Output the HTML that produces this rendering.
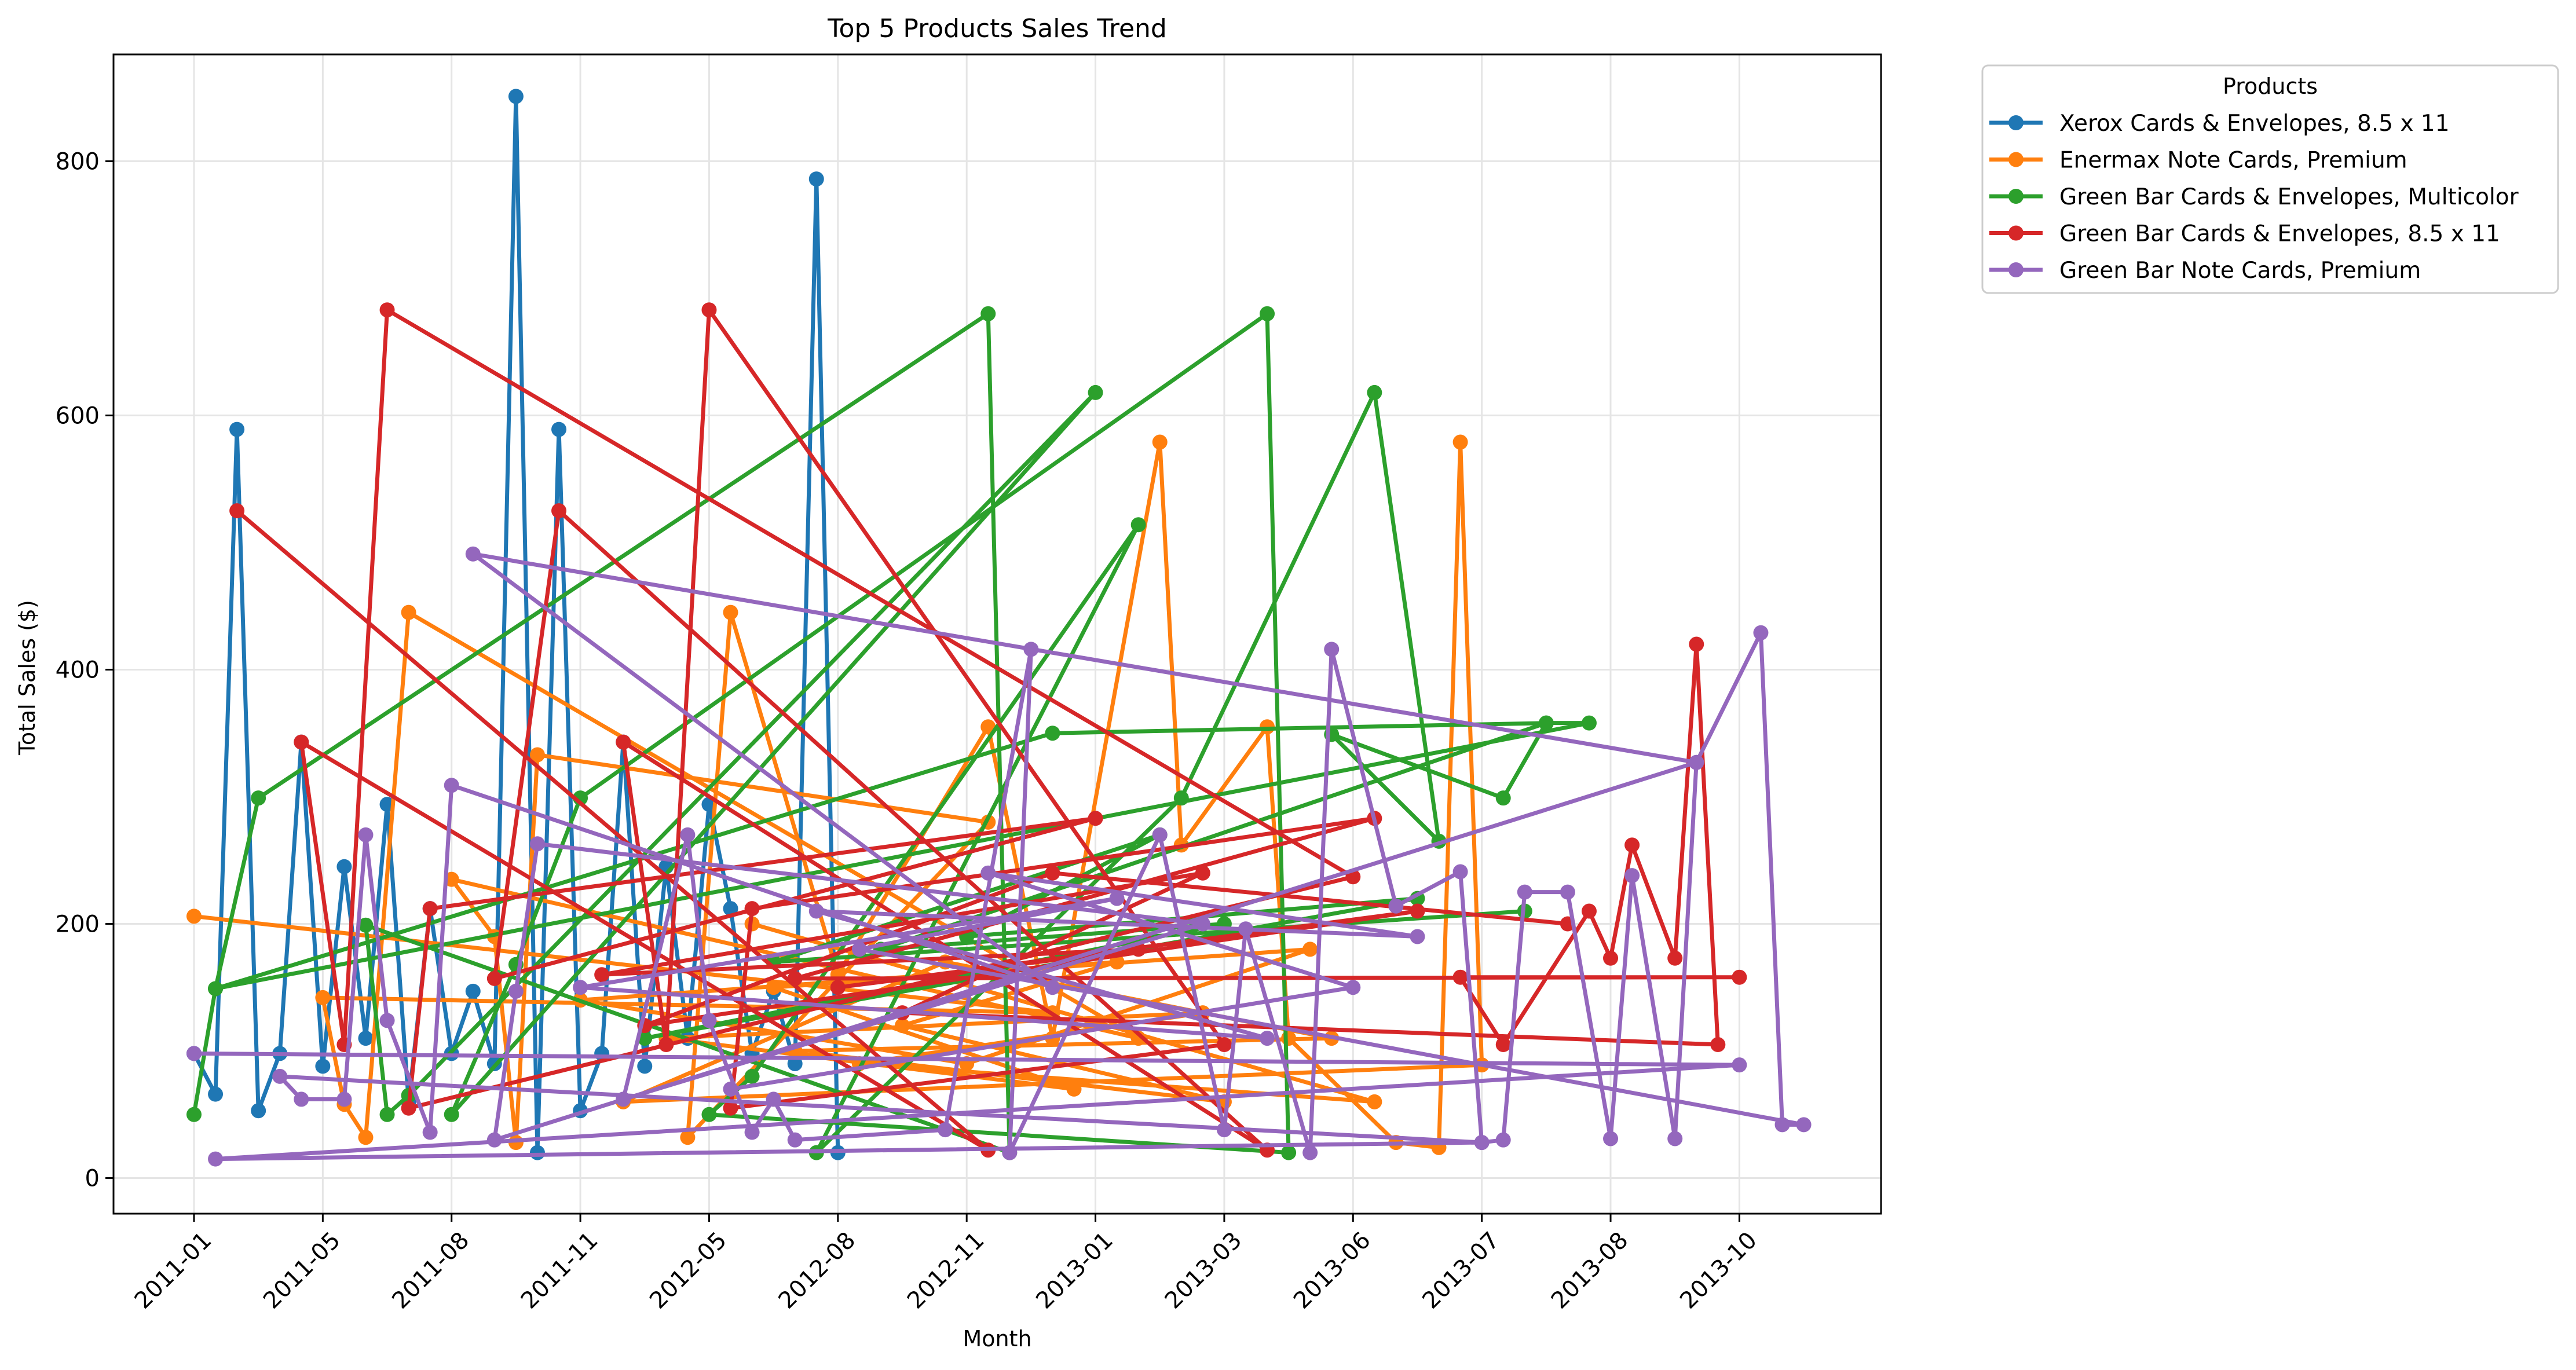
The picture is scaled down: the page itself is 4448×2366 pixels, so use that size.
<!DOCTYPE html>
<html><head><meta charset="utf-8"><style>
html,body{margin:0;padding:0;background:#fff;}
svg{display:block;font-family:"DejaVu Sans","Liberation Sans",sans-serif;}
</style></head><body>
<svg id="chart" width="4448" height="2366" viewBox="0 0 4448 2366" xmlns="http://www.w3.org/2000/svg">
<rect width="4448" height="2366" fill="#fff"/>
<text x="1722" y="64" font-size="44" text-anchor="middle">Top 5 Products Sales Trend</text>
<g id="grid"></g>
<g id="series"></g>
<rect x="196" y="94" width="3052" height="2002" fill="none" stroke="#000" stroke-width="3"/>
<g id="axes"></g>
<text x="1722" y="2325" font-size="38" text-anchor="middle">Month</text>
<text transform="translate(60,1170) rotate(-90)" font-size="38" text-anchor="middle">Total Sales ($)</text>
<g>
<rect x="3423" y="113" width="994" height="393" rx="10" fill="#fff" stroke="#ccc" stroke-width="3"/>
<text x="3920" y="162" font-size="38" text-anchor="middle">Products</text>
<g id="legend-items"></g>
</g>
</svg>
<script>
const categories = ["Xerox Cards & Envelopes, 8.5 x 11","Enermax Note Cards, Premium","Green Bar Cards & Envelopes, Multicolor","Green Bar Cards & Envelopes, 8.5 x 11","Green Bar Note Cards, Premium"];
const colors = ["#1f77b4","#ff7f0e","#2ca02c","#d62728","#9467bd"];
const xTickLabels = ["2011-01","2011-05","2011-08","2011-11","2012-05","2012-08","2012-11","2013-01","2013-03","2013-06","2013-07","2013-08","2013-10"];
const yTicks = [0,200,400,600,800];
const xeroxX = [0,1,2,3,4,5,6,7,8,9,10,11,12,13,14,15,16,17,18,19,20,21,22,23,24,25,26,27,28,29,30];
const xeroxY = [98,66,589,53,98,343,88,245,110,294,60,212,98,147,90,851,20,589,53,98,343,88,245,110,294,212,98,147,90,786,20];
const enermaxX = [0,40,6,7,8,10,44,12,14,15,16,37,23,25,30,37,40,45,46,50,51,56,58,59,60,20,35,53,28,48,33,43,18,36,52,27,41,22,47,31,55,26];
const enermaxY = [206,130,142,58,32,445,110,235,190,28,333,280,32,445,160,355,110,579,262,355,110,28,24,579,89,60,170,110,100,60,120,170,140,90,180,150,70,110,130,90,60,200];
const multiX = [0,1,3,37,38,8,9,10,42,12,15,18,50,51,24,26,44,29,46,55,58,53,61,63,65,1,40,63,32,48,21,57,36,45,27,62];
const multiY = [50,149,299,680,20,199,50,65,618,50,168,299,680,20,50,80,514,20,299,618,265,349,299,358,358,149,350,358,180,200,110,220,190,270,170,210];
const greenBarX = [2,37,5,7,9,54,10,11,42,14,17,50,20,22,24,48,25,26,55,28,72,59,61,65,66,67,69,70,71,33,47,19,44,30,57,21,40,64];
const greenBarY = [525,22,343,105,683,237,55,212,283,157,525,22,343,105,683,105,55,212,283,157,158,158,105,210,173,262,173,420,105,130,240,160,180,150,210,120,240,200];
const noteX = [0,72,1,60,4,5,7,8,9,11,12,40,13,70,14,15,16,47,20,23,24,26,27,28,35,39,38,45,48,49,52,53,56,59,60,61,62,64,66,67,69,70,73,74,75,31,43,18,50,29,57,37,54,25];
const noteY = [98,89,15,28,80,62,62,270,124,36,309,150,491,327,30,147,263,200,62,270,124,36,62,30,38,416,20,270,38,196,20,416,214,241,28,30,225,225,31,238,31,327,429,42,42,180,220,150,110,210,190,240,150,70];
const seriesX = [xeroxX,enermaxX,multiX,greenBarX,noteX];
const seriesY = [xeroxY,enermaxY,multiY,greenBarY,noteY];

const NS="http://www.w3.org/2000/svg";
const L=196,R=3248,T=94,B=2096;
const xMin=-3.75,xMax=78.6,yMin=-28,yMax=884;
function sx(v){return L+(v-xMin)/(xMax-xMin)*(R-L);}
function sy(v){return B-(v-yMin)/(yMax-yMin)*(B-T);}
function mk(tag,attrs,parent){const e=document.createElementNS(NS,tag);for(const k in attrs)e.setAttribute(k,attrs[k]);parent.appendChild(e);return e;}
const grid=document.getElementById('grid'),axes=document.getElementById('axes'),ser=document.getElementById('series');
xTickLabels.forEach((lab,i)=>{
  const x=sx(i*6);
  const g=mk('line',{x1:x,x2:x,y1:T,y2:B,stroke:'#e5e5e5','stroke-width':3},grid);
  
  
  const t=mk('line',{x1:x,x2:x,y1:B,y2:B+14,stroke:'#000','stroke-width':3},axes);
  
  
  const tx=mk('text',{transform:`translate(${x+12},${B+28}) rotate(-45)`,'font-size':40,'text-anchor':'end','dominant-baseline':'hanging'},axes);
  tx.textContent=lab;
  
  
});
yTicks.forEach(v=>{
  const y=sy(v);
  const g=mk('line',{x1:L,x2:R,y1:y,y2:y,stroke:'#e5e5e5','stroke-width':3},grid);
  
  
  const t=mk('line',{x1:L-14,x2:L,y1:y,y2:y,stroke:'#000','stroke-width':3},axes);
  
  
  const tx=mk('text',{x:L-24,y:y+14,'font-size':40,'text-anchor':'end'},axes);
  tx.textContent=v;
  
  
});
seriesX.forEach((xs,s)=>{
  const g=mk('g',{},ser);
  
  
  const pts=xs.map((x,i)=>sx(x)+','+sy(seriesY[s][i])).join(' ');
  const pl=mk('polyline',{points:pts,fill:'none',stroke:colors[s],'stroke-width':7,'stroke-linejoin':'round'},g);
  
  
  xs.forEach((x,i)=>{
    const c=mk('circle',{cx:sx(x),cy:sy(seriesY[s][i]),r:13,fill:colors[s]},g);
    
    
  });
});
const li=document.getElementById('legend-items');
categories.forEach((c,i)=>{
  const y=212+i*63.5;
  const l=mk('line',{x1:3435,x2:3527,y1:y,y2:y,stroke:colors[i],'stroke-width':7},li);
  
  
  const m=mk('circle',{cx:3481,cy:y,r:13,fill:colors[i]},li);
  
  
  const t=mk('text',{x:3556,y:y+14,'font-size':39},li);
  t.textContent=c;
  
  
});
</script>
</body></html>
